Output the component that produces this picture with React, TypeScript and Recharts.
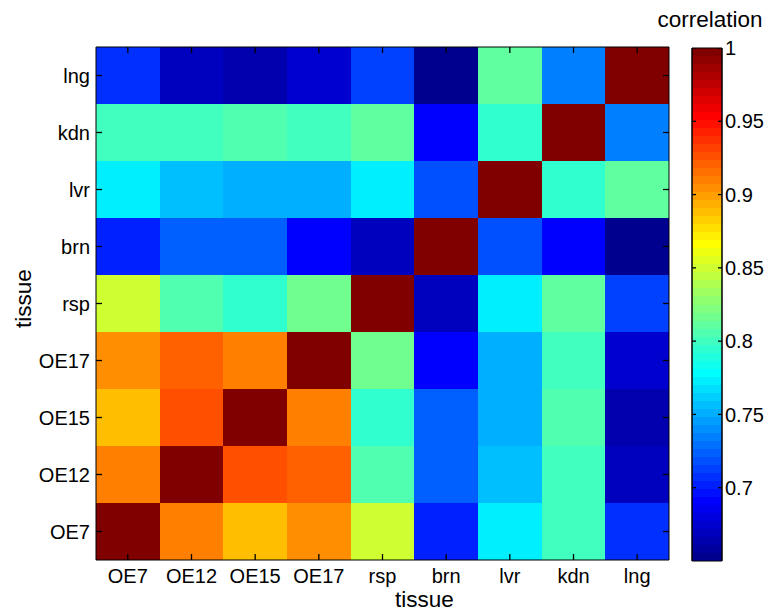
import React from 'react';
import { ScatterChart, Scatter, XAxis, YAxis, ReferenceArea, Label } from 'recharts';

// Categories (x: left→right, y: bottom→top)
const tissues = ['OE7', 'OE12', 'OE15', 'OE17', 'rsp', 'brn', 'lvr', 'kdn', 'lng'];

// Correlation rows, one per tissue (columns in the order of `tissues`)
const corrOE7 = [1, 0.91, 0.889, 0.905, 0.85, 0.703, 0.774, 0.801, 0.708];
const corrOE12 = [0.91, 1, 0.927, 0.921, 0.807, 0.725, 0.757, 0.801, 0.669];
const corrOE15 = [0.889, 0.927, 1, 0.91, 0.796, 0.725, 0.752, 0.807, 0.664];
const corrOE17 = [0.905, 0.921, 0.91, 1, 0.818, 0.691, 0.752, 0.801, 0.675];
const corrRsp = [0.85, 0.807, 0.796, 0.818, 1, 0.669, 0.774, 0.812, 0.714];
const corrBrn = [0.703, 0.725, 0.725, 0.691, 0.669, 1, 0.719, 0.691, 0.65];
const corrLvr = [0.774, 0.757, 0.752, 0.752, 0.774, 0.719, 1, 0.796, 0.812];
const corrKdn = [0.801, 0.801, 0.807, 0.801, 0.812, 0.691, 0.796, 1, 0.736];
const corrLng = [0.708, 0.669, 0.664, 0.675, 0.714, 0.65, 0.812, 0.736, 1];

const rows = [corrOE7, corrOE12, corrOE15, corrOE17, corrRsp, corrBrn, corrLvr, corrKdn, corrLng];

// Colorbar tick values
const colorTicks = [0.7, 0.75, 0.8, 0.85, 0.9, 0.95, 1];

const FONT = '"Liberation Sans", Arial, Helvetica, sans-serif';
const NCOLORS = 64;

const allValues = rows.flat();
const cMin = Math.min(...allValues);
const cMax = Math.max(...allValues);

// MATLAB jet(64), row i in 1..64
function jetRow(i: number): [number, number, number] {
  const b = i <= 8 ? (i + 8) / 16 : i <= 23 ? 1 : i <= 39 ? (40 - i) / 16 : 0;
  const g = i < 9 ? 0 : i <= 24 ? (i - 8) / 16 : i <= 39 ? 1 : i <= 55 ? (56 - i) / 16 : 0;
  const r = i < 25 ? 0 : i <= 40 ? (i - 24) / 16 : i <= 55 ? 1 : (72 - i) / 16;
  return [r, g, b];
}
function toHex([r, g, b]: [number, number, number]) {
  const h = (v: number) => Math.round(Math.max(0, Math.min(1, v)) * 255).toString(16).padStart(2, '0');
  return `#${h(r)}${h(g)}${h(b)}`;
}
function valueColor(v: number) {
  const idx = Math.min(NCOLORS, Math.floor(((v - cMin) / (cMax - cMin)) * NCOLORS) + 1);
  return toHex(jetRow(idx));
}

const cells = rows.flatMap((row, yi) => row.map((v, xi) => ({ x: xi, y: yi, v })));
const idxTicks = tissues.map((_, i) => i);
const bands = Array.from({ length: NCOLORS }, (_, k) => ({
  y1: cMin + (k * (cMax - cMin)) / NCOLORS,
  y2: cMin + ((k + 1) * (cMax - cMin)) / NCOLORS,
  color: toHex(jetRow(k + 1)),
}));

// tick mark anchor points on the box edges (dir = direction the mark points into the box)
const mainTickMarks = idxTicks.flatMap((i) => [
  { x: -0.5, y: i, dir: 'r' },
  { x: 8.5, y: i, dir: 'l' },
  { x: i, y: -0.5, dir: 'u' },
  { x: i, y: 8.5, dir: 'd' },
]);
const cbTickMarks = colorTicks.flatMap((v) => [
  { x: 0, y: v, dir: 'r' },
  { x: 1, y: v, dir: 'l' },
]);

const tickStyle = { fill: '#000', fontSize: 20, fontFamily: FONT };
const blank = () => '';
const noShape = () => <g />;
const MAIN_MARGIN = { top: 37, right: 88, bottom: 22, left: 36 };
const CB_MARGIN = { top: 48, right: 0, bottom: 51, left: 680 };
const layer: React.CSSProperties = { position: 'absolute', left: 0, top: 0 };

const tickShape = (len: number) => (p: any) => {
  const { cx, cy, payload } = p;
  if (cx == null || cy == null) return <g />;
  const d = payload.dir;
  const x2 = d === 'r' ? cx + len : d === 'l' ? cx - len : cx;
  const y2 = d === 'u' ? cy - len : d === 'd' ? cy + len : cy;
  return <line x1={cx} y1={cy} x2={x2} y2={y2} stroke="#000" strokeWidth={1.3} />;
};

function mainAxes(lines: boolean) {
  const common = {
    type: 'number' as const,
    domain: [-0.5, 8.5] as [number, number],
    ticks: idxTicks,
    interval: 0 as const,
    tickSize: -5,
    axisLine: lines ? { stroke: '#000' } : false,
    tickLine: false,
    tick: tickStyle,
    allowDataOverflow: true,
  };
  return [
    <Scatter key="s1" data={cells} dataKey="y" shape={noShape} isAnimationActive={false} />,
    <Scatter key="s2" data={cells} dataKey="y" xAxisId="top" yAxisId="right" shape={noShape} isAnimationActive={false} />,
    <XAxis key="xb" {...common} dataKey="x" height={30} tickMargin={14} tickFormatter={lines ? blank : (i: number) => tissues[i]}>
      {!lines && (
        <Label
          content={(p: any) => {
            const vb = p.viewBox || { x: 96, y: 560, width: 573, height: 30 };
            return (
              <text x={vb.x + vb.width / 2 + 42} y={vb.y + vb.height + 17} textAnchor="middle" fontSize={22.5} fontFamily={FONT} fill="#000">
                tissue
              </text>
            );
          }}
        />
      )}
    </XAxis>,
    <XAxis key="xt" {...common} xAxisId="top" orientation="top" dataKey="x" height={10} tickFormatter={blank}>
      {!lines && (
        <Label
          content={() => (
            <text x={710} y={27} textAnchor="middle" fontSize={22.5} fontFamily={FONT} fill="#000">
              correlation
            </text>
          )}
        />
      )}
    </XAxis>,
    <YAxis key="yl" {...common} dataKey="y" width={60} tickMargin={11} tickFormatter={lines ? blank : (i: number) => tissues[i]}>
      {!lines && (
        <Label
          content={(p: any) => {
            const vb = p.viewBox || { x: 36, y: 47, width: 60, height: 513 };
            const cx = vb.x - 5;
            const cy = vb.y + vb.height / 2 - 5;
            return (
              <text x={cx} y={cy} transform={`rotate(-90, ${cx}, ${cy})`} textAnchor="middle" fontSize={22.5} fontFamily={FONT} fill="#000">
                tissue
              </text>
            );
          }}
        />
      )}
    </YAxis>,
    <YAxis key="yr" {...common} yAxisId="right" orientation="right" dataKey="y" width={10} tickFormatter={blank} />,
  ];
}

function colorbarAxes(lines: boolean) {
  const common = {
    type: 'number' as const,
    domain: [cMin, cMax] as [number, number],
    ticks: colorTicks,
    interval: 0 as const,
    tickSize: -4,
    axisLine: lines ? { stroke: '#000' } : false,
    tickLine: false,
    tick: tickStyle,
    allowDataOverflow: true,
  };
  return [
    <Scatter key="c1" data={[{ x: 0.5, y: cMin }]} dataKey="y" shape={noShape} isAnimationActive={false} />,
    <Scatter key="c2" data={[{ x: 0.5, y: cMin }]} dataKey="y" yAxisId="cbr" shape={noShape} isAnimationActive={false} />,
    <XAxis key="cx" type="number" dataKey="x" domain={[0, 1]} hide height={0} allowDataOverflow />,
    <YAxis key="cl" {...common} dataKey="y" width={12} tickFormatter={blank} />,
    <YAxis
      key="cr"
      {...common}
      yAxisId="cbr"
      orientation="right"
      dataKey="y"
      width={45}
      tickMargin={7}
      tickFormatter={lines ? blank : (v: number) => String(+v.toFixed(2))}
    />,
  ];
}

export default function App() {
  return (
    <div style={{ position: 'absolute', left: 0, top: 0, width: 767, height: 612, background: '#fff' }}>
      {/* heatmap cells + labels */}
      <div style={layer}>
        <ScatterChart width={767} height={612} margin={MAIN_MARGIN}>
          {cells.map((c) => (
            <ReferenceArea
              key={`${c.x}-${c.y}`}
              x1={c.x - 0.5}
              x2={c.x + 0.5}
              y1={c.y - 0.5}
              y2={c.y + 0.5}
              fill={valueColor(c.v)}
              fillOpacity={1}
              stroke="none"
              shapeRendering="crispEdges"
              ifOverflow="visible"
            />
          ))}
          {mainAxes(false)}
        </ScatterChart>
      </div>
      {/* colorbar bands + labels */}
      <div style={layer}>
        <ScatterChart width={767} height={612} margin={CB_MARGIN}>
          {bands.map((b, k) => (
            <ReferenceArea
              key={k}
              x1={0}
              x2={1}
              y1={b.y1}
              y2={b.y2}
              fill={b.color}
              fillOpacity={1}
              stroke="none"
              shapeRendering="crispEdges"
              ifOverflow="visible"
            />
          ))}
          {colorbarAxes(false)}
        </ScatterChart>
      </div>
      {/* box and inward tick marks drawn on top */}
      <div style={layer}>
        <ScatterChart width={767} height={612} margin={MAIN_MARGIN}>
          {mainAxes(true)}
          <Scatter data={mainTickMarks} dataKey="y" shape={tickShape(6)} isAnimationActive={false} />
        </ScatterChart>
      </div>
      <div style={layer}>
        <ScatterChart width={767} height={612} margin={CB_MARGIN}>
          <ReferenceArea x1={0} x2={1} y1={cMin} y2={cMax} fill="none" stroke="#000" strokeWidth={1} ifOverflow="visible" />
          {colorbarAxes(true)}
          <Scatter data={cbTickMarks} dataKey="y" shape={tickShape(4)} isAnimationActive={false} />
        </ScatterChart>
      </div>
    </div>
  );
}
